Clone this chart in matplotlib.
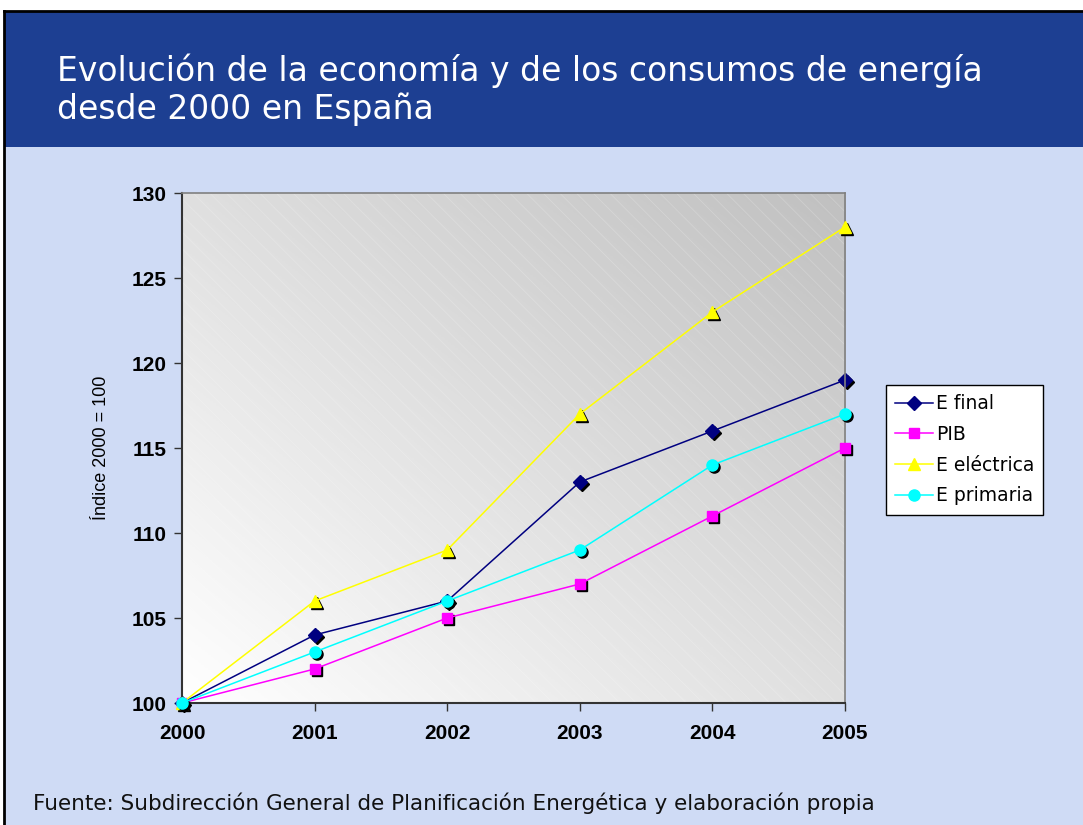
import numpy as np
import matplotlib
matplotlib.use("Agg")
from matplotlib import pyplot as plt
from matplotlib import transforms
from matplotlib.patches import Rectangle
from matplotlib.colors import LinearSegmentedColormap

years = [2000, 2001, 2002, 2003, 2004, 2005]
e_final = [100, 104, 106, 113, 116, 119]
pib = [100, 102, 105, 107, 111, 115]
e_electrica = [100, 106, 109, 117, 123, 128]
e_primaria = [100, 103, 106, 109, 114, 117]

title = "Evolución de la economía y de los consumos de energía\ndesde 2000 en España"
source = "Fuente: Subdirección General de Planificación Energética y elaboración propia"

header_blue = '#1d3f92'
page_blue = '#cfdbf5'

fig = plt.figure(figsize=(10.83, 8.25), dpi=100)
fig.patch.set_facecolor('white')

# page background, header band and black frame
fig.patches.append(Rectangle((5 / 1083, 0), 1, 1 - 12 / 825, transform=fig.transFigure,
                             facecolor=page_blue, edgecolor='none', zorder=0))
fig.patches.append(Rectangle((5 / 1083, 1 - 147 / 825), 1, 135 / 825, transform=fig.transFigure,
                             facecolor=header_blue, edgecolor='none', zorder=1))
fig.lines.append(plt.Line2D([4 / 1083, 1], [1 - 11 / 825] * 2, transform=fig.transFigure,
                            color='black', lw=2, zorder=2))
fig.lines.append(plt.Line2D([4 / 1083] * 2, [0, 1 - 11 / 825], transform=fig.transFigure,
                            color='black', lw=2, zorder=2))

fig.text(57 / 1083, 1 - 90 / 825, title, color='white', fontsize=23.8,
         family='DejaVu Sans', ha='left', va='center', linespacing=1.17)
fig.text(33 / 1083, 1 - 803 / 825, source, color='#111111', fontsize=15.5,
         family='DejaVu Sans', ha='left', va='center')

ax = fig.add_axes([182 / 1083, 1 - 703 / 825, (845 - 182) / 1083, (703 - 193) / 825])
ax.set_zorder(5)
ax.set_xlim(2000, 2005)
ax.set_ylim(100, 130)
ax.set_facecolor('white')

# diagonal gradient in the plot area, white at bottom-left to grey at top-right
gx, gy = np.meshgrid(np.linspace(0, 1, 200), np.linspace(0, 1, 200))
grad = (gx + gy) / 2
cmap = LinearSegmentedColormap.from_list('g', ['#ffffff', '#c0c0c0'])
ax.imshow(grad, extent=(0, 1, 0, 1), origin='lower', cmap=cmap, aspect='auto',
          transform=ax.transAxes, zorder=0)
plt.rcParams['hatch.linewidth'] = 0.6
ax.add_patch(Rectangle((0, 0), 1, 1, transform=ax.transAxes, facecolor='none',
                       edgecolor=(1, 1, 1, 0.2), hatch='\\\\', lw=0, zorder=0.5))

series = [
    (e_final, 'E final', '#000080', 'D', 7),
    (pib, 'PIB', '#ff00ff', 's', 7.5),
    (e_electrica, 'E eléctrica', '#ffff00', '^', 9),
    (e_primaria, 'E primaria', '#00ffff', 'o', 8),
]

shadow = transforms.offset_copy(ax.transData, fig=fig, x=2, y=-2, units='dots')
handles = []
for i, (vals, name, col, mk, ms) in enumerate(series):
    ax.plot(years, vals, color='none', marker=mk, ms=ms, mfc='black', mec='black',
            transform=shadow, clip_on=False, zorder=2 + i)
    h, = ax.plot(years, vals, color=col, lw=1.1, marker=mk, ms=ms, mfc=col, mec=col,
                 label=name, clip_on=False, zorder=2.5 + i)
    handles.append(h)

ax.set_yticks(range(100, 131, 5))
ax.set_xticks(years)
for lab in ax.get_xticklabels() + ax.get_yticklabels():
    lab.set_family('Liberation Sans')
    lab.set_fontweight('bold')
    lab.set_fontsize(15)
ax.tick_params(axis='both', direction='out', length=6, width=1, color='#333333')
ax.tick_params(axis='y', pad=5)
ax.tick_params(axis='x', pad=9)

ax.set_ylabel('Índice 2000 = 100', family='Liberation Sans', fontsize=13, labelpad=16)

for side in ['top', 'right']:
    ax.spines[side].set_color('#808080')
    ax.spines[side].set_linewidth(1.2)
for side in ['left', 'bottom']:
    ax.spines[side].set_color('#333333')
    ax.spines[side].set_linewidth(1.5)

leg = fig.legend(handles=handles, loc='upper left',
                 bbox_to_anchor=(886 / 1083, 1 - 385 / 825), frameon=True,
                 fancybox=False, edgecolor='black', facecolor='white', framealpha=1,
                 prop={'family': 'DejaVu Sans', 'size': 13.5}, handlelength=2.0,
                 handletextpad=0.15, labelspacing=0.62, borderpad=0.5, borderaxespad=0)
leg.get_frame().set_linewidth(1)
leg.set_zorder(6)

fig.savefig('out.png', dpi=100, facecolor=fig.get_facecolor())
